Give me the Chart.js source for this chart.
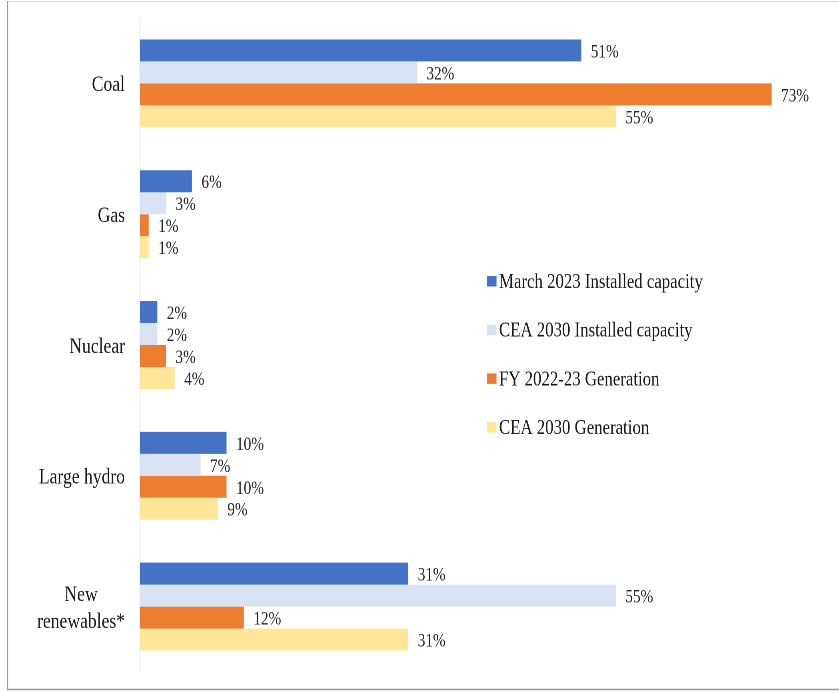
<!DOCTYPE html>
<html><head><meta charset="utf-8">
<script src="https://cdn.jsdelivr.net/npm/chart.js@4.4.0/dist/chart.umd.min.js"></script>
<style>html,body{margin:0;padding:0;background:#fff;overflow:hidden}</style>
</head><body>
<canvas id="c" width="1049" height="691" style="width:839px;height:691px;display:block"></canvas>
<script>
const categories = ['Coal', 'Gas', 'Nuclear', 'Large hydro', ['New', 'renewables*']];
const seriesNames = ['March 2023 Installed capacity', 'CEA 2030 Installed capacity', 'FY 2022-23 Generation', 'CEA 2030 Generation'];
const march2023Installed = [51, 6, 2, 10, 31];
const cea2030Installed = [32, 3, 2, 7, 55];
const fy2223Generation = [73, 1, 3, 10, 12];
const cea2030Generation = [55, 1, 4, 9, 31];
const seriesColors = ['#4472C4', '#DAE3F3', '#ED7D31', '#FFE699'];

const S = 839 / 1049; // display / internal horizontal ratio
const X = d => d / S;
const FONT = '"Liberation Serif", "Times New Roman", serif';

const seriesValues = [march2023Installed, cea2030Installed, fy2223Generation, cea2030Generation];

const overlay = {
  id: 'overlay',
  beforeDraw(chart) {
    const ctx = chart.ctx;
    ctx.save();
    ctx.lineWidth = 1;
    ctx.strokeStyle = '#dcdcdc';
    ctx.beginPath(); ctx.moveTo(X(7), 1.5); ctx.lineTo(chart.width, 1.5); ctx.stroke();
    ctx.strokeStyle = '#9a9a9a';
    ctx.lineWidth = 1.5;
    ctx.beginPath(); ctx.moveTo(X(7.5), 1); ctx.lineTo(X(7.5), 689.5); ctx.lineTo(chart.width, 689.5); ctx.stroke();
    ctx.restore();
  },
  afterDatasetsDraw(chart) {
    const ctx = chart.ctx;
    const yScale = chart.scales.y;
    ctx.save();
    // data labels
    ctx.font = '19px ' + FONT;
    ctx.fillStyle = '#262626';
    ctx.textAlign = 'left';
    ctx.textBaseline = 'middle';
    chart.data.datasets.forEach((ds, di) => {
      chart.getDatasetMeta(di).data.forEach((bar, i) => {
        ctx.fillText(ds.data[i] + '%', bar.x + X(9.5), bar.y + 2);
      });
    });
    // category labels
    ctx.font = '22px ' + FONT;
    ctx.fillStyle = '#1a1a1a';
    ctx.textAlign = 'center';
    const rightEdge = X(125);
    categories.forEach((lab, i) => {
      const lines = Array.isArray(lab) ? lab : [lab];
      const w = Math.max(...lines.map(l => ctx.measureText(l).width));
      const cx = rightEdge - w / 2;
      const cy = yScale.getPixelForValue(i) + 2;
      const lh = 27;
      lines.forEach((l, k) => {
        ctx.fillText(l, cx, cy + (k - (lines.length - 1) / 2) * lh);
      });
    });
    // legend
    ctx.font = '21px ' + FONT;
    ctx.textAlign = 'left';
    const ly0 = 281, lstep = 48.7;
    chart.data.datasets.forEach((ds, di) => {
      const y = ly0 + di * lstep;
      ctx.fillStyle = ds.backgroundColor;
      ctx.fillRect(X(487), y - 5, X(9.5), 10.5);
      ctx.fillStyle = '#1a1a1a';
      ctx.fillText(ds.label, X(499), y + 1.5);
    });
    ctx.restore();
  }
};

new Chart(document.getElementById('c'), {
  type: 'bar',
  data: {
    labels: categories.map(c => Array.isArray(c) ? c.join(' ') : c),
    datasets: seriesNames.map((name, i) => ({
      label: name,
      data: seriesValues[i],
      backgroundColor: seriesColors[i],
      borderWidth: 0,
      categoryPercentage: 0.672,
      barPercentage: 1.0
    }))
  },
  options: {
    indexAxis: 'y',
    responsive: false,
    devicePixelRatio: 2,
    animation: false,
    layout: { padding: { left: 0, right: 8.5, top: 18, bottom: 19 } },
    plugins: { legend: { display: false }, tooltip: { enabled: false } },
    scales: {
      x: { display: false, min: 0, max: 80 },
      y: {
        grid: { display: false },
        border: { display: true, color: '#d9d9d9', width: 1 },
        ticks: { display: false },
        afterFit: s => { s.width = X(140); }
      }
    }
  },
  plugins: [overlay]
});
</script>
</body></html>
